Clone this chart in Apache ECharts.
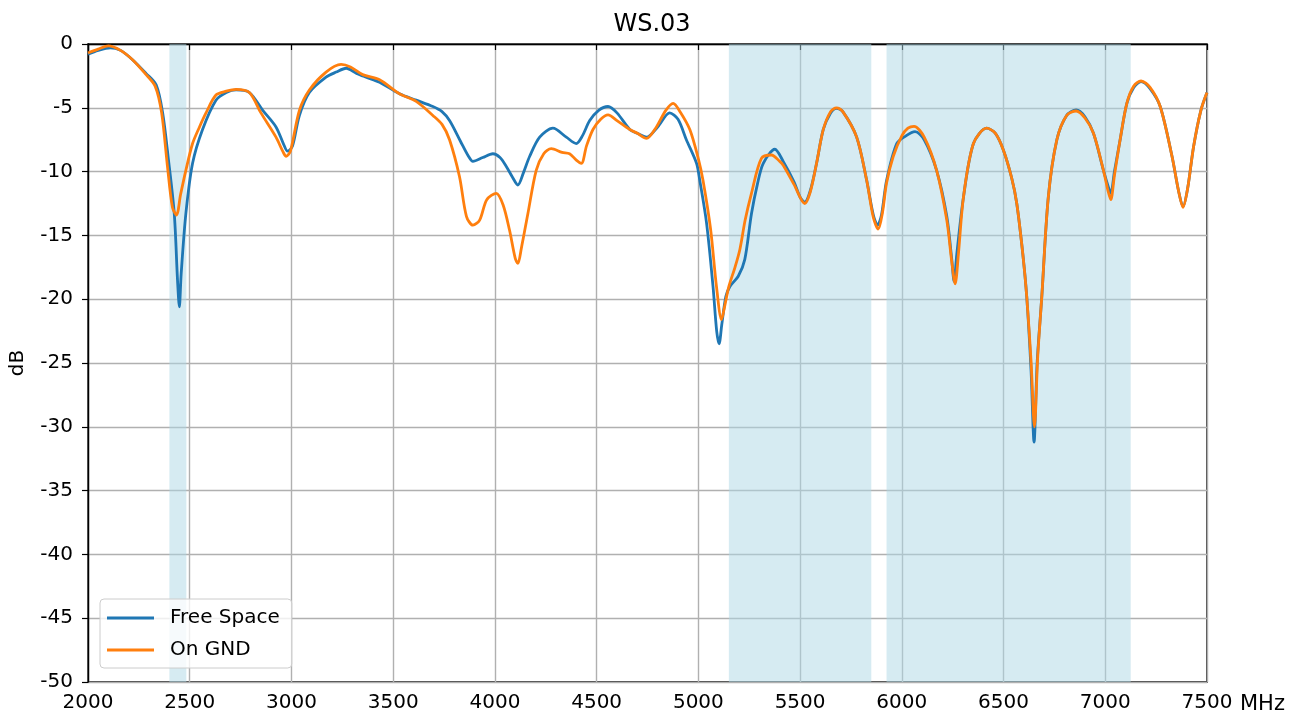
<!DOCTYPE html>
<html>
<head>
<meta charset="utf-8">
<script src="https://cdn.jsdelivr.net/npm/echarts@6/dist/echarts.min.js"></script>
<style>
  html, body { margin: 0; padding: 0; background: #fff; }
  #chart { width: 1303px; height: 720px; }
</style>
</head>
<body>
<div id="chart"></div>
<script>
// Free Space (blue)
const freqFree = [2000,2050,2110,2160,2220,2285,2335,2367,2395,2424,2440,2449,2458,2481,2514,2563,2629,2680,2728,2793,2859,2924,2960,2981,3005,3039,3088,3170,3220,3269,3320,3367,3433,3531,3613,3695,3740,3777,3830,3870,3892,3940,3990,4025,4056,4085,4113,4140,4171,4220,4285,4351,4400,4430,4466,4510,4556,4600,4663,4700,4745,4800,4859,4900,4941,4991,5007,5040,5072,5090,5102,5115,5135,5155,5196,5228,5261,5290,5319,5376,5417,5470,5500,5523,5550,5581,5614,5650,5679,5710,5778,5827,5860,5881,5900,5925,5975,6020,6065,6110,6171,6221,6245,6257,6270,6303,6352,6417,6460,6499,6540,6565,6595,6614,6635,6650,6665,6688,6720,6762,6810,6857,6900,6942,6991,7015,7027,7045,7073,7106,7140,7176,7220,7270,7328,7360,7382,7405,7434,7470,7500];
const dbFree = [-0.8,-0.5,-0.3,-0.5,-1.25,-2.3,-3.2,-5.4,-9.0,-13.3,-18.5,-20.6,-18.0,-13.3,-9.35,-6.7,-4.4,-3.8,-3.6,-3.8,-5.2,-6.5,-7.8,-8.4,-8.0,-5.6,-3.8,-2.6,-2.2,-1.9,-2.3,-2.6,-3.0,-3.9,-4.4,-4.9,-5.3,-6.0,-7.6,-8.8,-9.2,-8.9,-8.6,-8.9,-9.6,-10.4,-11.05,-10.1,-8.8,-7.3,-6.6,-7.3,-7.8,-7.2,-6.0,-5.2,-4.9,-5.4,-6.7,-7.0,-7.3,-6.5,-5.4,-5.9,-7.5,-9.35,-10.7,-14,-19.0,-22.5,-23.5,-22,-19.8,-19.0,-18.2,-16.9,-13.3,-11,-9.35,-8.25,-9.2,-10.8,-12.0,-12.4,-11.5,-9.35,-6.7,-5.4,-5.04,-5.3,-7.3,-10.66,-13.4,-14.2,-13.4,-10.7,-7.8,-7.2,-6.87,-7.5,-9.9,-13.5,-16.8,-18.6,-16.5,-12.0,-7.8,-6.6,-7.0,-8.3,-10.5,-12.5,-16.5,-19.8,-25.5,-31.2,-25,-19.8,-12.0,-7.5,-5.6,-5.17,-5.7,-7.0,-9.9,-11.2,-11.7,-10,-7.5,-4.65,-3.4,-2.95,-3.5,-4.9,-8.8,-11.5,-12.75,-11.3,-8.05,-5.2,-3.8];

// On GND (orange)
const freqGnd = [2000,2050,2100,2160,2220,2280,2330,2362,2390,2415,2435,2455,2481,2514,2548,2580,2629,2680,2728,2793,2850,2924,2960,2974,2995,3039,3088,3170,3244,3290,3350,3433,3531,3613,3695,3740,3777,3826,3860,3892,3925,3960,4007,4040,4072,4100,4113,4130,4162,4203,4240,4277,4330,4367,4400,4425,4450,4482,4520,4556,4600,4663,4700,4745,4790,4840,4876,4910,4958,5000,5023,5060,5089,5114,5130,5150,5180,5204,5230,5261,5310,5359,5400,5417,5470,5523,5550,5581,5614,5650,5679,5710,5778,5827,5860,5884,5905,5925,5958,6000,6030,6060,6110,6171,6221,6245,6262,6278,6303,6352,6417,6460,6499,6540,6565,6595,6614,6635,6652,6668,6688,6720,6762,6810,6857,6900,6942,6991,7015,7027,7045,7073,7106,7140,7176,7220,7270,7328,7360,7382,7405,7434,7470,7500];
const dbGnd = [-0.7,-0.4,-0.15,-0.5,-1.25,-2.3,-3.3,-5.4,-9.5,-12.8,-13.4,-11.8,-9.9,-7.8,-6.5,-5.4,-4.0,-3.7,-3.55,-3.8,-5.4,-7.3,-8.5,-8.8,-8.4,-5.2,-3.6,-2.2,-1.6,-1.8,-2.4,-2.8,-3.9,-4.5,-5.6,-6.3,-7.5,-10.4,-13.5,-14.2,-13.8,-12.2,-11.7,-12.6,-14.6,-16.8,-17.2,-16,-13.3,-9.9,-8.6,-8.2,-8.5,-8.6,-9.1,-9.35,-8,-6.7,-5.9,-5.56,-6.0,-6.7,-7.0,-7.4,-6.6,-5.2,-4.65,-5.3,-6.7,-9.0,-10.7,-14.5,-19.0,-21.6,-20.5,-19,-17.5,-16.1,-13.8,-11.7,-8.96,-8.7,-9.2,-9.5,-11.0,-12.5,-11.6,-9.35,-6.7,-5.3,-5.0,-5.3,-7.3,-10.66,-13.6,-14.5,-13.2,-10.9,-8.8,-7.2,-6.6,-6.45,-7.3,-9.9,-13.8,-17,-18.8,-16.5,-12.0,-7.8,-6.6,-7.0,-8.3,-10.5,-12.5,-16.5,-19.8,-24.8,-30.0,-24.5,-19.8,-12.0,-7.5,-5.6,-5.25,-5.8,-7.0,-9.9,-11.6,-12.2,-10.3,-7.5,-4.65,-3.3,-2.9,-3.4,-4.9,-8.8,-11.5,-12.8,-11.3,-8.05,-5.2,-3.8];

// shaded frequency bands (MHz)
const bands = [[2400, 2483.5], [5150, 5850], [5925, 7125]];

const font = 'DejaVu Sans';
const zip = (xs, ys) => xs.map((x, i) => [x, ys[i]]);

const myChart = echarts.init(document.getElementById('chart'));
const option = {
  animation: false,
  title: [
    {
      text: 'WS.03',
      left: 647, top: 8, textAlign: 'center',
      textStyle: { fontFamily: font, fontSize: 24, fontWeight: 'normal', color: '#000' }
    },
    {
      // x axis unit, placed right of the last tick label
      text: 'MHz', left: 1240, top: 694, padding: 0,
      textStyle: { fontFamily: font, fontSize: 21, fontWeight: 'normal', color: '#000' }
    }
  ],
  legend: {
    orient: 'vertical',
    left: 100, top: 599,
    itemWidth: 47, itemHeight: 3, itemGap: 12,
    padding: [9, 12, 8, 7],
    backgroundColor: 'rgba(255,255,255,0.8)',
    borderColor: '#ccc', borderWidth: 1, borderRadius: 4,
    icon: 'rect',
    textStyle: { fontFamily: font, fontSize: 20, color: '#000', padding: [0, 0, 0, 11] },
    data: ['Free Space', 'On GND']
  },
  grid: {
    left: 88, right: 96, top: 44, bottom: 38,
    show: true, borderColor: '#000', borderWidth: 1.4
  },
  xAxis: {
    type: 'value', min: 2000, max: 7500, interval: 500,
    axisLine: { lineStyle: { color: '#000', width: 1.4 } },
    axisTick: { length: 6, lineStyle: { color: '#000', width: 1.2 } },
    axisLabel: { fontFamily: font, fontSize: 20, color: '#000', margin: 11, formatter: v => String(v) },
    splitLine: { show: true, lineStyle: { color: '#b0b0b0', width: 1.4 } }
  },
  yAxis: {
    type: 'value', min: -50, max: 0, interval: 5,
    name: 'dB', nameLocation: 'middle', nameGap: 60, nameRotate: 90,
    nameTextStyle: { fontFamily: font, fontSize: 20, color: '#000' },
    axisLine: { lineStyle: { color: '#000', width: 1.4 } },
    axisTick: { length: 6, lineStyle: { color: '#000', width: 1.2 } },
    axisLabel: { fontFamily: font, fontSize: 20, color: '#000', margin: 15 },
    splitLine: { show: true, lineStyle: { color: '#b0b0b0', width: 1.4 } }
  },
  series: [
    {
      name: 'Free Space', type: 'line', showSymbol: false, smooth: 0.3,
      color: '#1f77b4', lineStyle: { width: 2.8 },
      data: zip(freqFree, dbFree),
      markArea: {
        silent: true,
        itemStyle: { color: 'rgba(173,216,230,0.5)' },
        data: bands.map(b => [{ xAxis: b[0] }, { xAxis: b[1] }])
      },
      z: 2
    },
    {
      name: 'On GND', type: 'line', showSymbol: false, smooth: 0.3,
      color: '#ff7f0e', lineStyle: { width: 2.8 },
      data: zip(freqGnd, dbGnd),
      z: 3
    }
  ]
};
myChart.setOption(option);
</script>
</body>
</html>
